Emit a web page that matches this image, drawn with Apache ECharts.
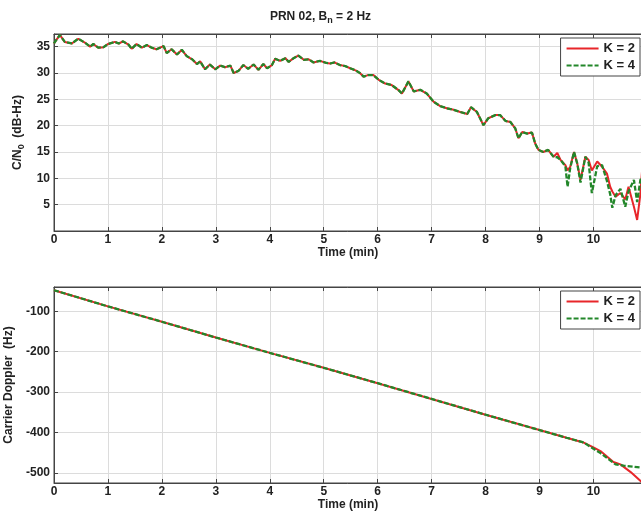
<!DOCTYPE html>
<html>
<head>
<meta charset="utf-8">
<script src="https://cdn.jsdelivr.net/npm/echarts@6/dist/echarts.min.js"></script>
<style>
html,body{margin:0;padding:0;background:#fff;}
#chart{width:641px;height:520px;}
</style>
</head>
<body>
<div id="chart"></div>
<script>
// ---- Data ----
const seriesNames = ['K = 2', 'K = 4'];
const xTicks = [0,1,2,3,4,5,6,7,8,9,10];

const cnoTime = [
 0.00,0.05,0.11,0.20,0.33,0.45,0.58,0.67,0.73,0.82,
 0.92,1.00,1.13,1.20,1.28,1.38,1.44,1.53,1.63,1.72,
 1.81,1.90,2.03,2.09,2.18,2.28,2.37,2.46,2.56,2.65,
 2.71,2.80,2.89,2.99,3.08,3.17,3.27,3.33,3.42,3.51,
 3.60,3.70,3.79,3.88,3.95,4.04,4.10,4.19,4.29,4.35,
 4.44,4.53,4.63,4.72,4.81,4.93,5.05,5.12,5.20,5.30,
 5.40,5.49,5.59,5.67,5.74,5.82,5.92,6.02,6.14,6.26,
 6.38,6.45,6.57,6.67,6.79,6.91,7.04,7.16,7.28,7.41,
 7.53,7.66,7.73,7.84,7.96,8.05,8.18,8.27,8.37,8.46,
 8.55,8.61,8.68,8.77,8.86,8.92,8.98,9.07,9.16,9.26,
 9.33,9.39,9.48,9.52,9.57,9.64,9.70,9.76,9.85,9.91,
 9.97,10.07,10.16,10.25,10.31,10.35,10.41,10.50,10.59,10.65,
 10.75,10.81,10.87,10.90
];
const cnoK2 = [
 35.6,36.4,37.2,35.9,35.6,36.5,35.7,35.0,35.5,34.8,
 34.9,35.5,35.9,35.6,36.0,35.4,34.6,35.5,34.8,35.3,
 34.8,34.5,35.1,33.8,34.5,33.5,34.4,33.2,32.6,31.7,
 32.2,30.7,31.6,30.7,31.4,31.1,31.4,30.0,30.4,31.5,
 30.8,31.6,30.6,31.7,30.9,31.5,32.7,32.3,32.8,32.1,
 32.8,33.3,32.5,32.6,32.0,32.3,31.9,31.8,32.0,31.5,
 31.3,30.9,30.5,30.0,29.3,29.6,29.6,28.7,28.0,27.7,
 26.8,26.1,28.4,26.5,26.8,26.1,24.5,23.7,23.3,23.0,
 22.6,22.2,23.5,22.6,20.1,21.4,22.0,22.0,20.9,20.7,
 19.5,17.6,18.8,18.5,18.7,16.6,15.4,15.0,15.4,14.1,
 14.8,13.5,12.5,11.5,12.2,15.0,12.8,9.7,14.1,13.5,
 11.5,13.2,12.2,10.9,8.4,7.5,6.5,7.2,6.0,8.4,
 4.6,2.1,7.0,11.3
];
const cnoK4 = [
 35.6,36.4,37.2,35.9,35.6,36.5,35.7,35.0,35.5,34.8,
 34.9,35.5,35.9,35.6,36.0,35.4,34.6,35.5,34.8,35.3,
 34.8,34.5,35.1,33.8,34.5,33.5,34.4,33.2,32.6,31.7,
 32.2,30.7,31.6,30.7,31.4,31.1,31.4,30.0,30.4,31.5,
 30.8,31.6,30.6,31.7,30.9,31.5,32.7,32.3,32.8,32.1,
 32.8,33.3,32.5,32.6,32.0,32.3,31.9,31.8,32.0,31.5,
 31.3,30.9,30.5,30.0,29.3,29.6,29.6,28.7,28.0,27.7,
 26.8,26.1,28.4,26.5,26.8,26.1,24.5,23.7,23.3,23.0,
 22.6,22.2,23.5,22.6,20.1,21.4,22.0,22.0,20.9,20.7,
 19.5,17.6,18.8,18.5,18.7,16.6,15.4,15.0,15.4,14.1,
 14.0,13.5,12.3,8.4,12.0,15.0,12.8,9.2,14.1,13.0,
 7.2,12.3,12.5,9.5,7.0,4.4,6.8,8.0,4.6,7.5,
 9.7,5.5,9.7,10.0
];

const dopTimeK2 = [0,1,2,3,4,5,6,7,8,9,9.5,9.8,10.0,10.13,10.37,10.5,10.69,10.9];
const dopK2     = [-48,-88,-126,-165,-203,-240,-278,-317,-356,-394,-413,-424,-437,-446,-473,-479,-498,-523];
const dopTimeK4 = [0,1,2,3,4,5,6,7,8,9,9.5,9.8,9.88,10.0,10.13,10.31,10.41,10.56,10.9];
const dopK4     = [-48,-88,-126,-165,-203,-240,-278,-317,-356,-394,-413,-424,-430,-440,-451,-469,-479,-482,-487];

// ---- Build ----
const zip = (xs, ys) => xs.map((x, i) => [x, ys[i]]);
const RED = '#e8262a', GREEN = '#23872a';
const FONT = 'Liberation Sans, Arial, sans-serif';

const axisLineStyle = { lineStyle: { color: '#444', width: 1 } };
const labelStyle = { color: '#222', fontSize: 12, fontWeight: 'bold', fontFamily: FONT };
const splitStyle = { show: true, lineStyle: { color: '#dcdcdc', width: 1 } };
const tickStyle = { show: true, inside: true, length: 4, lineStyle: { color: '#444' } };

function xAxis(gridIndex) {
  return {
    type: 'value', gridIndex, min: 0, max: 10.9, interval: 1,
    name: 'Time (min)', nameLocation: 'middle', nameGap: 16,
    nameTextStyle: { color: '#222', fontSize: 12, fontWeight: 'bold', fontFamily: FONT },
    axisLine: axisLineStyle,
    axisTick: tickStyle,
    axisLabel: Object.assign({ margin: 3, showMaxLabel: false,
      formatter: v => xTicks.includes(v) ? String(v) : '' }, labelStyle),
    splitLine: splitStyle
  };
}
function xAxisTop(gridIndex) {
  return {
    type: 'value', gridIndex, position: 'top', min: 0, max: 10.9, interval: 1,
    axisLine: axisLineStyle, axisTick: tickStyle,
    axisLabel: { show: false }, splitLine: { show: false }
  };
}
const legendBase = {
  data: seriesNames, orient: 'vertical', right: 1,
  itemWidth: 32, itemHeight: 10, itemGap: 4, padding: [4, 5],
  borderColor: '#444', borderWidth: 1, backgroundColor: '#fff',
  itemStyle: { opacity: 0 },
  textStyle: { fontSize: 13, fontWeight: 'bold', color: '#222', fontFamily: FONT }
};

const option = {
  backgroundColor: '#fff',
  animation: false,
  title: {
    text: '{a|PRN 02, B}{s|n}{a| = 2 Hz}',
    left: 'center', top: 3,
    textStyle: {
      rich: {
        a: { fontSize: 12, color: '#222', fontFamily: FONT },
        s: { fontSize: 9, color: '#222', fontFamily: FONT, padding: [8, 0, 0, 0] }
      }
    }
  },
  grid: [
    { left: 54, top: 34, right: -1, height: 197, show: true, borderColor: '#444', borderWidth: 1,
      backgroundColor: 'transparent', containLabel: false, outerBoundsMode: 'none' },
    { left: 54, top: 287, right: -1, height: 196, show: true, borderColor: '#444', borderWidth: 1,
      backgroundColor: 'transparent', containLabel: false, outerBoundsMode: 'none' }
  ],
  legend: [
    Object.assign({}, legendBase, { top: 38 }),
    Object.assign({}, legendBase, { top: 291 })
  ],
  xAxis: [xAxis(0), xAxis(1), xAxisTop(0), xAxisTop(1)],
  yAxis: [
    {
      type: 'value', gridIndex: 0, min: 0, max: 37.4, interval: 5,
      name: '{a|C/N}{s|0}{a|  (dB-Hz)}', nameLocation: 'middle', nameGap: 28,
      nameTextStyle: {
        rich: {
          a: { fontSize: 12, fontWeight: 'bold', color: '#222', fontFamily: FONT },
          s: { fontSize: 9, fontWeight: 'bold', color: '#222', fontFamily: FONT, padding: [8, 0, 0, 0] }
        }
      },
      axisLine: axisLineStyle,
      axisTick: tickStyle,
      axisLabel: Object.assign({ margin: 4, showMinLabel: false, showMaxLabel: false }, labelStyle),
      splitLine: splitStyle
    },
    {
      type: 'value', gridIndex: 1, min: -525, max: -40,
      name: 'Carrier Doppler  (Hz)', nameLocation: 'middle', nameGap: 34,
      nameTextStyle: { fontSize: 12, fontWeight: 'bold', color: '#222', fontFamily: FONT },
      axisLine: axisLineStyle,
      axisTick: tickStyle,
      axisLabel: Object.assign({ margin: 4, showMinLabel: false, showMaxLabel: false,
        formatter: v => (v % 100 === 0 ? String(v) : '') }, labelStyle),
      splitLine: splitStyle
    }
  ],
  series: [
    { name: 'K = 2', type: 'line', xAxisIndex: 0, yAxisIndex: 0, data: zip(cnoTime, cnoK2),
      showSymbol: false, symbol: 'none', lineStyle: { color: RED, width: 2 }, itemStyle: { color: RED }, z: 2 },
    { name: 'K = 4', type: 'line', xAxisIndex: 0, yAxisIndex: 0, data: zip(cnoTime, cnoK4),
      showSymbol: false, symbol: 'none', lineStyle: { color: GREEN, width: 2.3, type: [5, 2] }, itemStyle: { color: GREEN }, z: 3 },
    { name: 'K = 2', type: 'line', xAxisIndex: 1, yAxisIndex: 1, data: zip(dopTimeK2, dopK2),
      showSymbol: false, symbol: 'none', lineStyle: { color: RED, width: 2 }, itemStyle: { color: RED }, z: 2 },
    { name: 'K = 4', type: 'line', xAxisIndex: 1, yAxisIndex: 1, data: zip(dopTimeK4, dopK4),
      showSymbol: false, symbol: 'none', lineStyle: { color: GREEN, width: 2.3, type: [5, 2] }, itemStyle: { color: GREEN }, z: 3 }
  ]
};

const chart = echarts.init(document.getElementById('chart'), null, { renderer: 'canvas' });
chart.setOption(option);
</script>
</body>
</html>
